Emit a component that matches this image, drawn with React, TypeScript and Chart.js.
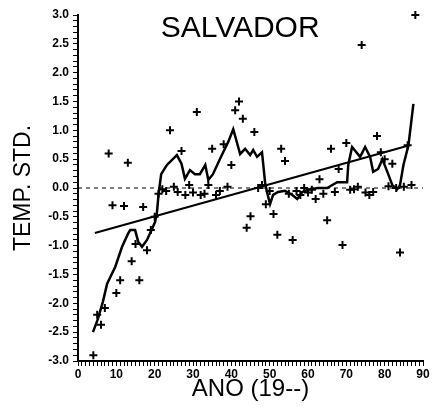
import React, { useEffect, useRef } from 'react';
import { Chart, registerables } from 'chart.js';

Chart.register(...registerables);

const TITLE = 'SALVADOR';
const X_TITLE = 'ANO (19--)';
const Y_TITLE = 'TEMP. STD.';

// Annual standardized temperature (year 19xx)
const scatterYears = [
  4, 5, 6, 7, 8, 9, 10, 11, 12, 13, 14, 15, 16, 17, 18, 19, 20, 21, 22, 23, 24, 25, 26, 27, 28, 29,
  30, 31, 32, 33, 34, 35, 36, 37, 38, 39, 40, 41, 42, 43, 44, 45, 46, 47, 48, 49, 50, 51, 52, 53, 54,
  55, 56, 57, 58, 59, 60, 61, 62, 63, 64, 65, 66, 67, 68, 69, 70, 71, 72, 73, 74, 75, 76, 77, 78, 79,
  80, 81, 82, 83, 84, 85, 86, 87, 88,
];
const scatterValues = [
  -2.9, -2.2, -2.37, -2.08, 0.6, -0.3, -1.82, -1.6, -0.31, 0.44, -1.27, -0.97, -1.6, -0.33, -1.08, -0.73,
  -0.5, -0.1, -0.02, -0.05, 1.0, 0.02, -0.07, 0.64, -0.12, 0.05, -0.08, 1.32, -0.12, -0.1, 0.05, 0.68,
  -0.12, -0.05, 0.76, 0.02, 0.4, 1.35, 1.5, 1.2, -0.69, -0.49, 0.97, 0.0, 0.05, -0.28, -0.05, -0.45,
  -0.81, 0.68, 0.47, -0.1, -0.9, -0.05, -0.12, 0.0, -0.08, -0.03, -0.19, 0.15, -0.1, -0.56, 0.68, -0.07,
  0.33, -0.99, 0.78, -0.03, -0.02, 0.02, 2.48, -0.08, -0.12, -0.07, 0.9, 0.62, 0.5, 0.03, 0.42, 0.0,
  -1.12, 0.02, 0.74, 0.05, 3.0,
];

// Smoothed (running mean) curve
const smoothYears = [
  3.9, 5.2, 6.5, 7.6, 9.7, 11.5, 13, 13.6, 14.9, 15.7, 16.7, 18, 19.3, 20.1, 20.6, 21, 21.7, 23.2, 25.8,
  27, 27.9, 29.2, 30.5, 31.8, 33.2, 34, 35.2, 37, 39.2, 40.5, 42.3, 43.6, 44.9, 45.7, 46.7, 48, 48.8,
  49.3, 50.1, 50.9, 52.2, 54, 55.9, 57.2, 58.5, 60, 62.5, 65, 67.6, 70.2, 70.5, 71.5, 73.6, 74.9, 76.2,
  77, 78.3, 79.4, 80.7, 82, 83.3, 84, 84.9, 86.2, 87.5,
];
const smoothValues = [
  -2.5, -2.27, -1.97, -1.66, -1.37, -1.02, -0.8, -0.73, -0.73, -0.93, -1.02, -0.9, -0.71, -0.59, -0.42,
  -0.12, 0.24, 0.4, 0.57, 0.42, 0.16, 0.31, 0.24, 0.24, 0.4, 0.14, 0.24, 0.5, 0.8, 1.02, 0.59, 0.68,
  0.57, 0.66, 0.54, 0.62, 0.1, -0.07, -0.28, -0.12, -0.07, -0.05, -0.12, -0.19, -0.07, -0.03, 0.0, 0.0,
  0.1, 0.1, 0.4, 0.71, 0.54, 0.71, 0.54, 0.28, 0.33, 0.5, 0.28, 0.05, -0.02, 0.05, 0.4, 0.74, 1.46,
];

// Linear trend endpoints
const trendYears = [4.4, 86.5];
const trendValues = [-0.78, 0.74];

// Zero reference line
const zeroYears = [0, 90];
const zeroValues = [0, 0];

const FONT = '"Liberation Sans", Arial, Helvetica, sans-serif';

const innerTitle = {
  id: 'innerTitle',
  afterDraw(chart: any) {
    const { ctx, chartArea: a } = chart;
    ctx.save();
    ctx.font = `30px ${FONT}`;
    ctx.fillStyle = '#000';
    ctx.textAlign = 'center';
    ctx.textBaseline = 'alphabetic';
    ctx.fillText(TITLE, a.left + (a.right - a.left) * 0.47, a.top + 22);
    ctx.restore();
  },
};

const isMult = (v: number, m: number) => Math.abs(Math.round(v / m) * m - v) < 1e-6;

export default function App() {
  const ref = useRef<HTMLCanvasElement | null>(null);

  useEffect(() => {
    if (!ref.current) return;
    const toPts = (xs: number[], ys: number[]) => xs.map((x, i) => ({ x, y: ys[i] }));
    const chart = new Chart(ref.current, {
      type: 'scatter',
      data: {
        datasets: [
          {
            type: 'line',
            data: toPts(zeroYears, zeroValues),
            borderColor: '#000',
            borderWidth: 1.2,
            borderDash: [4, 4],
            pointRadius: 0,
          } as any,
          {
            type: 'line',
            data: toPts(trendYears, trendValues),
            borderColor: '#000',
            borderWidth: 2,
            pointRadius: 0,
          } as any,
          {
            type: 'line',
            data: toPts(smoothYears, smoothValues),
            borderColor: '#000',
            borderWidth: 2.5,
            pointRadius: 0,
            tension: 0,
          } as any,
          {
            type: 'scatter',
            data: toPts(scatterYears, scatterValues),
            pointStyle: 'cross',
            pointRadius: 4,
            pointBorderWidth: 2,
            pointBorderColor: '#000',
            pointBackgroundColor: '#000',
            clip: false,
          } as any,
        ],
      },
      options: {
        animation: false,
        responsive: false,
        devicePixelRatio: 1,
        layout: { padding: { left: 0, top: 15, right: 13, bottom: 0 } },
        plugins: { legend: { display: false }, tooltip: { enabled: false } },
        scales: {
          x: {
            type: 'linear',
            position: 'bottom',
            min: 0,
            max: 90,
            afterFit: (s: any) => {
              s.height = 46;
            },
            border: { display: true, color: '#000', width: 2 },
            grid: { drawOnChartArea: false, drawTicks: true, tickLength: 5, color: '#000', lineWidth: 1 },
            ticks: {
              stepSize: 1,
              maxTicksLimit: 1000,
              autoSkip: false,
              maxRotation: 0,
              padding: 1,
              color: '#000',
              font: { family: FONT, size: 12, weight: 'bold' },
              callback: (v: any) => (isMult(Number(v), 10) ? String(Math.round(Number(v))) : ''),
            },
            title: {
              display: true,
              text: X_TITLE,
              color: '#000',
              font: { family: FONT, size: 24 },
              padding: { top: 0, bottom: 3 },
            },
          },
          y: {
            type: 'linear',
            position: 'left',
            min: -3,
            max: 3,
            afterFit: (s: any) => {
              s.width = 78;
            },
            border: { display: true, color: '#000', width: 2 },
            grid: { drawOnChartArea: false, drawTicks: true, tickLength: 5, color: '#000', lineWidth: 1 },
            ticks: {
              stepSize: 0.1,
              maxTicksLimit: 1000,
              autoSkip: false,
              padding: 4,
              color: '#000',
              font: { family: FONT, size: 12, weight: 'bold' },
              callback: (v: any) => (isMult(Number(v), 0.5) ? Number(v).toFixed(1) : ''),
            },
            title: {
              display: true,
              text: Y_TITLE,
              color: '#000',
              font: { family: FONT, size: 23 },
              padding: { top: 10, bottom: 0 },
            },
          },
        },
      },
      plugins: [innerTitle],
    });
    return () => chart.destroy();
  }, []);

  return (
    <div style={{ position: 'absolute', left: 0, top: 0, width: 436, height: 407, background: '#fff' }}>
      <canvas ref={ref} width={436} height={407} style={{ display: 'block', width: 436, height: 407 }} />
    </div>
  );
}
